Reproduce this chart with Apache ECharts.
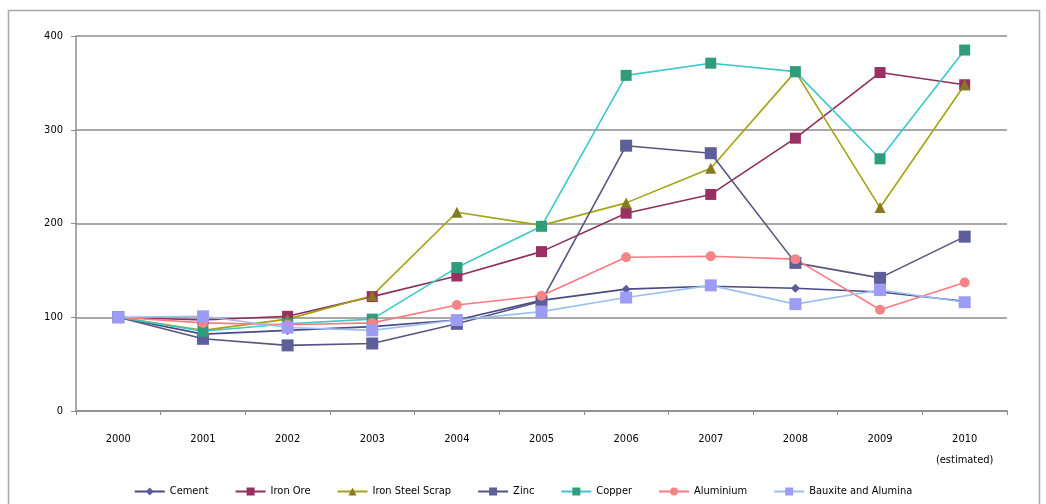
<!DOCTYPE html>
<html>
<head>
<meta charset="utf-8">
<script src="https://cdn.jsdelivr.net/npm/echarts@6/dist/echarts.min.js"></script>
<style>
  html, body { margin: 0; padding: 0; background: #fff; }
  #chart { width: 1046px; height: 504px; }
</style>
</head>
<body>
<div id="chart"></div>
<script>
// Price index by mineral (2000 = 100)
const years = ['2000', '2001', '2002', '2003', '2004', '2005', '2006', '2007', '2008', '2009', '2010\n(estimated)'];
const yTicks = [0, 100, 200, 300, 400];

const cement       = [100, 82, 86, 90, 97, 118, 130, 133, 131, 127, 117];
const ironOre      = [100, 97, 101, 122, 144, 170, 211, 231, 291, 361, 348];
const ironSteel    = [100, 86, 98, 123, 212, 198, 222, 259, 362, 217, 348];
const zinc         = [100, 77, 70, 72, 93, 117, 283, 275, 158, 142, 186];
const copper       = [100, 85, 93, 98, 153, 197, 358, 371, 362, 269, 385];
const aluminium    = [100, 94, 92, 94, 113, 123, 164, 165, 162, 108, 137];
const bauxite      = [100, 101, 89, 86, 97, 106, 121, 134, 114, 129, 116];

const seriesDefs = [
  { name: 'Cement', data: cement, line: '#4a4a86', mark: '#5c5c99', symbol: 'diamond', size: 9 },
  { name: 'Iron Ore', data: ironOre, line: '#8c2f5c', mark: '#9a2f62', symbol: 'rect', size: 11 },
  { name: 'Iron Steel Scrap', data: ironSteel, line: '#a3a313', mark: '#857a22', symbol: 'triangle', size: 11 },
  { name: 'Zinc', data: zinc, line: '#55557f', mark: '#5e5e9a', symbol: 'rect', size: 12 },
  { name: 'Copper', data: copper, line: '#3cc8c8', mark: '#2f9c7c', symbol: 'rect', size: 11 },
  { name: 'Aluminium', data: aluminium, line: '#ff7a80', mark: '#f78484', symbol: 'circle', size: 10 },
  { name: 'Bauxite and Alumina', data: bauxite, line: '#9cc0ee', mark: '#9c9cf5', symbol: 'rect', size: 12 }
];

const chart = echarts.init(document.getElementById('chart'));

chart.setOption({
  animation: false,
  backgroundColor: '#ffffff',
  textStyle: { fontFamily: 'DejaVu Sans Condensed, Liberation Sans, sans-serif' },
  graphic: [{
    type: 'rect',
    shape: { x: 8.5, y: 10.5, width: 1031, height: 500 },
    style: { fill: 'none', stroke: '#a8a8a8', lineWidth: 1.5 },
    silent: true
  }],
  grid: { left: 76, right: 39, top: 36, bottom: 93 },
  legend: {
    top: 481,
    left: 'center',
    itemWidth: 30,
    itemHeight: 10,
    itemGap: 26,
    textStyle: { fontSize: 11, color: '#000' },
    data: seriesDefs.map(s => s.name)
  },
  xAxis: {
    type: 'category',
    data: years,
    boundaryGap: true,
    axisLine: { lineStyle: { color: '#8c8c8c', width: 1.5 } },
    axisTick: { show: true, length: 4, lineStyle: { color: '#8c8c8c' } },
    axisLabel: { color: '#000', fontSize: 11, margin: 18, lineHeight: 21 }
  },
  yAxis: {
    type: 'value',
    min: 0,
    max: 400,
    interval: 100,
    axisLine: { show: true, lineStyle: { color: '#8c8c8c', width: 1.5 } },
    axisTick: { show: true, length: 5, lineStyle: { color: '#8c8c8c' } },
    axisLabel: { color: '#000', fontSize: 11, margin: 13,
      formatter: v => (yTicks.indexOf(v) >= 0 ? String(v) : '') },
    splitLine: { lineStyle: { color: '#8c8c8c', width: 1.5 } }
  },
  series: seriesDefs.map(s => ({
    name: s.name,
    type: 'line',
    data: s.data,
    symbol: s.symbol,
    symbolSize: s.size,
    showAllSymbol: true,
    lineStyle: { color: s.line, width: 1.6 },
    itemStyle: { color: s.mark, borderColor: s.mark, borderWidth: 0 },
    emphasis: { disabled: true }
  }))
});
</script>
</body>
</html>
